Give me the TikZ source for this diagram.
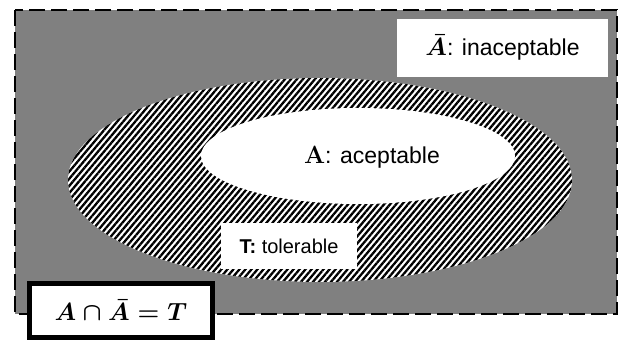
\documentclass[tikz,border=0pt]{standalone}
\usepackage{amsmath}
\usepackage[no-math]{fontspec}
\setmainfont{Liberation Sans}
\usetikzlibrary{patterns.meta}

\tikzset{
	labelbox/.style={fill=white,inner sep=0,outer sep=0},
	setfont/.style={font=\fontsize{23}{27}\selectfont},
}

\begin{document}
\begin{tikzpicture}[x=1pt,y=-1pt]
	\useasboundingbox (0,0) rectangle (619,340);
	\fill[black!50] (15,10) rectangle (617,314);
	\draw[line width=2pt,dash pattern=on 16pt off 6pt] (15,10) rectangle (617,314);
	\fill[white] (320,180) ellipse [x radius=252,y radius=102];
	\pattern[pattern={Lines[angle=50,distance=4.6pt,line width=2.3pt]},pattern color=black] (320,180) ellipse [x radius=252,y radius=102];
	\fill[white] (358,156) ellipse [x radius=157,y radius=48];
	\node[setfont] (acc) at (372,157) {$\mathbf{A}$: aceptable};
	\node[labelbox,setfont,minimum width=211pt,minimum height=58pt] (inacc) at (502.5,47.5) {$\boldsymbol{\bar{A}}$: inaceptable};
	\node[labelbox,font=\fontsize{20}{24}\selectfont,minimum width=136pt,minimum height=46pt] (tol) at (289,246) {\textbf{T:} tolerable};
	\node[labelbox,draw=black,line width=5pt,minimum width=183pt,minimum height=54pt,font=\fontsize{25}{29}\selectfont] (rule) at (121,310.5) {$\boldsymbol{A\cap\bar{A}=T}$};
\end{tikzpicture}
\end{document}
